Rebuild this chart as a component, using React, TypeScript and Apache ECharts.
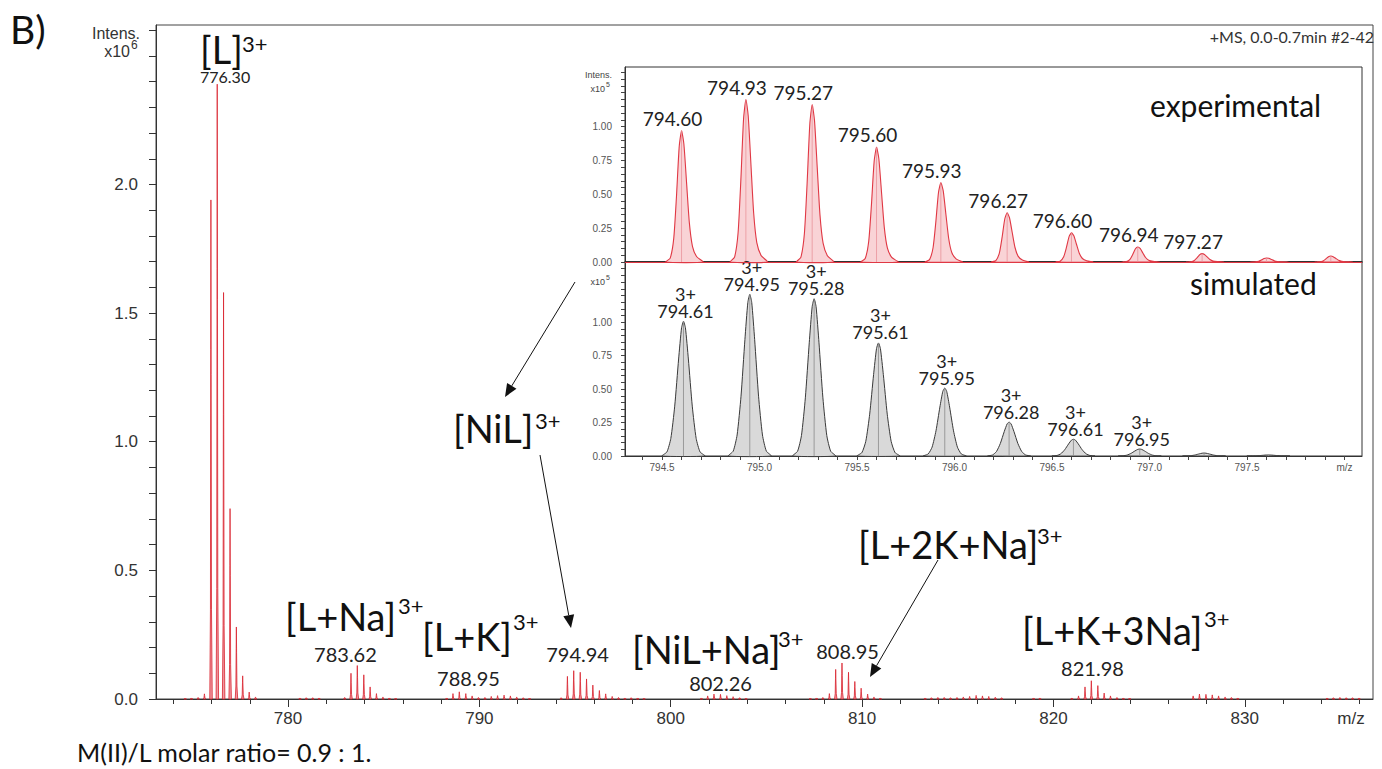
import React, { useEffect, useRef } from 'react';
import * as echarts from 'echarts';

// ---------------- data (main spectrum, intensity x10^6) ----------------
const mainMz = [
  774.62, 774.95, 775.30, 775.63, 775.97, 776.30, 776.63, 776.97, 777.30, 777.63, 777.97, 778.30,
  780.62, 780.95, 781.29, 781.62,
  782.96, 783.29, 783.62, 783.96, 784.29, 784.62, 784.96, 785.29, 785.62,
  788.29, 788.62, 788.95, 789.29, 789.62, 789.95, 790.29, 790.62, 790.95, 791.29, 791.62, 791.95, 792.29, 792.62,
  794.27, 794.60, 794.93, 795.27, 795.60, 795.93, 796.27, 796.60, 796.94, 797.27, 797.60, 797.93, 798.27, 798.60,
  801.60, 801.93, 802.26, 802.60, 802.93, 803.26, 803.60, 803.93,
  807.29, 807.62, 807.95, 808.29, 808.62, 808.95, 809.29, 809.62, 809.95, 810.29, 810.62, 810.95,
  813.29, 813.62, 813.96, 814.29, 814.62, 814.96, 815.29, 815.62, 815.96, 816.29, 816.62, 816.96, 817.29,
  818.96, 819.29,
  820.96, 821.31, 821.65, 821.98, 822.32, 822.65, 822.98, 823.32, 823.65, 823.98,
  827.30, 827.63, 827.97, 828.30, 828.63, 828.97, 829.30, 829.63,
  834.30, 834.63, 834.97, 835.30, 835.63, 835.97,
];
const mainInt = [
  0.003, 0.004, 0.006, 0.02, 1.94, 2.39, 1.58, 0.74, 0.28, 0.09, 0.027, 0.008,
  0.004, 0.005, 0.005, 0.004,
  0.006, 0.1, 0.13, 0.094, 0.047, 0.021, 0.008, 0.004, 0.003,
  0.004, 0.021, 0.028, 0.021, 0.012, 0.006, 0.006, 0.01, 0.013, 0.015, 0.012, 0.008, 0.005, 0.003,
  0.005, 0.088, 0.11, 0.104, 0.078, 0.054, 0.033, 0.02, 0.01, 0.006, 0.004, 0.005, 0.004, 0.003,
  0.004, 0.012, 0.019, 0.018, 0.013, 0.009, 0.005, 0.003,
  0.003, 0.004, 0.006, 0.021, 0.115, 0.14, 0.104, 0.068, 0.042, 0.019, 0.008, 0.004,
  0.004, 0.005, 0.006, 0.006, 0.005, 0.006, 0.008, 0.01, 0.014, 0.012, 0.01, 0.007, 0.005,
  0.004, 0.004,
  0.004, 0.012, 0.047, 0.071, 0.052, 0.023, 0.012, 0.006, 0.004, 0.003,
  0.012, 0.019, 0.018, 0.016, 0.012, 0.008, 0.006, 0.004,
  0.004, 0.005, 0.006, 0.005, 0.005, 0.004,
];
const mainLabelText = ['776.30', '783.62', '788.95', '794.94', '802.26', '808.95', '821.98'];
const mainLabelMz = [776.71, 783.0, 789.43, 795.13, 802.6, 809.24, 822.04];
const mainLabelLevel = [2.39, 0.136, 0.043, 0.136, 0.023, 0.148, 0.082];
const mainLabelSize = [16, 20, 20, 20, 20, 20, 20];

// ---------------- inset (x10^5) ----------------
const expMz = [794.60, 794.93, 795.27, 795.60, 795.93, 796.27, 796.60, 796.94, 797.27, 797.60, 797.93];
const expInt = [0.968, 1.198, 1.16, 0.847, 0.585, 0.363, 0.215, 0.111, 0.062, 0.03, 0.044];
const expLabel = ['794.60', '794.93', '795.27', '795.60', '795.93', '796.27', '796.60', '796.94', '797.27', '', ''];
const simMz = [794.61, 794.95, 795.28, 795.61, 795.95, 796.28, 796.61, 796.95, 797.28, 797.61];
const simInt = [1.007, 1.208, 1.175, 0.845, 0.508, 0.253, 0.125, 0.052, 0.022, 0.008];
const simLabel = ['794.61', '794.95', '795.28', '795.61', '795.95', '796.28', '796.61', '796.95', '', ''];

// ---------------- ticks ----------------
const mainXLabels = [780, 790, 800, 810, 820, 830];
const mainXTicks = [774, 776, 778, 780, 782, 784, 786, 788, 790, 792, 794, 796, 798, 800, 802, 804, 806, 808, 810, 812, 814, 816, 818, 820, 822, 824, 826, 828, 830, 832, 834, 836];
const mainYLabels = [0, 0.5, 1.0, 1.5, 2.0];
const mainYTicks = [0, 0.1, 0.2, 0.3, 0.4, 0.5, 0.6, 0.7, 0.8, 0.9, 1.0, 1.1, 1.2, 1.3, 1.4, 1.5, 1.6, 1.7, 1.8, 1.9, 2.0, 2.1, 2.2, 2.3, 2.4, 2.5, 2.6];
const insetXLabels = [794.5, 795.0, 795.5, 796.0, 796.5, 797.0, 797.5, 798.0];
const insetXTicks = [794.4, 794.5, 794.6, 794.7, 794.8, 794.9, 795.0, 795.1, 795.2, 795.3, 795.4, 795.5, 795.6, 795.7, 795.8, 795.9, 796.0, 796.1, 796.2, 796.3, 796.4, 796.5, 796.6, 796.7, 796.8, 796.9, 797.0, 797.1, 797.2, 797.3, 797.4, 797.5, 797.6, 797.7, 797.8, 797.9, 798.0];
const insetYLabels = [0, 0.25, 0.5, 0.75, 1.0];
const insetYTicks = [0, 0.05, 0.1, 0.15, 0.2, 0.25, 0.3, 0.35, 0.4, 0.45, 0.5, 0.55, 0.6, 0.65, 0.7, 0.75, 0.8, 0.85, 0.9, 0.95, 1.0, 1.05, 1.1, 1.15, 1.2, 1.25, 1.3, 1.35, 1.4];

// peak profile templates (offset in m/z, relative height) - drawing style only
const mainShape = [[-0.06, 0], [-0.025, 0.18], [-0.01, 0.7], [0, 1], [0.012, 0.65], [0.03, 0.18], [0.07, 0]];
const expShape = [[-0.08, 0], [-0.058, 0.03], [-0.04, 0.18], [-0.026, 0.5], [-0.012, 0.88], [0, 1], [0.012, 0.9], [0.026, 0.6], [0.04, 0.3], [0.056, 0.12], [0.078, 0.04], [0.11, 0]];
const simShape = [[-0.11, 0], [-0.085, 0.03], [-0.065, 0.13], [-0.045, 0.37], [-0.025, 0.72], [-0.01, 0.95], [0, 1], [0.01, 0.95], [0.025, 0.72], [0.045, 0.37], [0.065, 0.13], [0.085, 0.03], [0.11, 0]];

const AX = '"Liberation Sans", Arial, sans-serif';
const AN = 'Lato, "Open Sans", sans-serif';

function txt(x: number, y: number, text: string, size: number, family: string, align = 'left', fill = '#111', va = 'middle') {
  return {
    type: 'text', x, y, silent: true, z: 50,
    style: { text, fontSize: size, fontFamily: family, fill, align, textAlign: align, verticalAlign: va, textVerticalAlign: va },
  };
}

function arrow(x1: number, y1: number, x2: number, y2: number) {
  const dx = x2 - x1, dy = y2 - y1, L = Math.hypot(dx, dy), ux = dx / L, uy = dy / L;
  const hl = 13, hw = 5.5;
  const bx = x2 - ux * hl, by = y2 - uy * hl;
  return [
    { type: 'line', silent: true, z: 50, shape: { x1, y1, x2: bx, y2: by }, style: { stroke: '#111', lineWidth: 1 } },
    { type: 'polygon', silent: true, z: 50, shape: { points: [[x2, y2], [bx - uy * hw, by + ux * hw], [bx + uy * hw, by - ux * hw]] }, style: { fill: '#111' } },
  ];
}

function annot(x: number, y: number, main: string, sx: number, sy: number) {
  return [txt(x, y, main, 38, AN), txt(sx, sy, '3+', 22, AN)];
}

const App: React.FC = () => {
  const ref = useRef<HTMLDivElement>(null);
  useEffect(() => {
    if (!ref.current) return;
    const chart = echarts.init(ref.current, null, { renderer: 'svg' });
    const axisFont = { fontFamily: AX, color: '#333' };
    const option: any = {
      animation: false,
      backgroundColor: '#fff',
      grid: [
        { left: 156, top: 25, width: 1217, height: 674, show: true, borderColor: '#444', borderWidth: 1, outerBoundsMode: 'none' },
        { left: 625, top: 67, width: 737, height: 195, show: true, borderColor: '#333', borderWidth: 1, backgroundColor: '#fff', outerBoundsMode: 'none' },
        { left: 625, top: 262, width: 737, height: 194, show: true, borderColor: '#333', borderWidth: 1, backgroundColor: '#fff', outerBoundsMode: 'none' },
      ],
      xAxis: [
        {
          gridIndex: 0, type: 'value', min: 773.1, max: 836.7, position: 'bottom',
          axisLine: { show: true, lineStyle: { color: '#333', width: 1 } },
          axisTick: { show: true, customValues: mainXTicks, length: 5, lineStyle: { color: '#333' } },
          axisLabel: { customValues: mainXLabels, fontSize: 17, margin: 11, ...axisFont },
          splitLine: { show: false },
        },
        {
          gridIndex: 0, type: 'value', min: 773.1, max: 836.7, position: 'bottom',
          axisLine: { show: false },
          axisTick: { show: true, customValues: mainXLabels, length: 8, lineStyle: { color: '#333' } },
          axisLabel: { show: false }, splitLine: { show: false },
        },
        {
          gridIndex: 1, type: 'value', min: 794.31, max: 798.09, position: 'bottom',
          axisLine: { show: true, lineStyle: { color: '#222', width: 1.5 } },
          axisTick: { show: false }, axisLabel: { show: false }, splitLine: { show: false },
        },
        {
          gridIndex: 2, type: 'value', min: 794.31, max: 798.09, position: 'bottom',
          axisLine: { show: true, lineStyle: { color: '#333', width: 1 } },
          axisTick: { show: true, customValues: insetXTicks, length: 4, lineStyle: { color: '#444' } },
          axisLabel: {
            customValues: insetXLabels, fontSize: 10, margin: 6, fontFamily: AX, color: '#555',
            formatter: (v: number) => (v > 797.95 ? 'm/z' : v.toFixed(1)),
          },
          splitLine: { show: false },
        },
      ],
      yAxis: [
        {
          gridIndex: 0, type: 'value', min: 0, max: 2.62,
          axisLine: { show: true, lineStyle: { color: '#333', width: 1 } },
          axisTick: { show: true, customValues: mainYTicks, length: 7, lineStyle: { color: '#333' } },
          axisLabel: { customValues: mainYLabels, fontSize: 17, margin: 18, formatter: (v: number) => v.toFixed(1), ...axisFont },
          splitLine: { show: false },
        },
        {
          gridIndex: 1, type: 'value', min: 0, max: 1.44,
          axisLine: { show: true, lineStyle: { color: '#333' } },
          axisTick: { show: true, customValues: insetYTicks, length: 4, lineStyle: { color: '#444' } },
          axisLabel: { customValues: insetYLabels, fontSize: 10, margin: 13, fontFamily: AX, color: '#555', formatter: (v: number) => v.toFixed(2) },
          splitLine: { show: false },
        },
        {
          gridIndex: 2, type: 'value', min: 0, max: 1.45,
          axisLine: { show: true, lineStyle: { color: '#333' } },
          axisTick: { show: true, customValues: insetYTicks, length: 4, lineStyle: { color: '#444' } },
          axisLabel: { customValues: insetYLabels, fontSize: 10, margin: 13, fontFamily: AX, color: '#555', formatter: (v: number) => v.toFixed(2) },
          splitLine: { show: false },
        },
      ],
      series: [
        {
          type: 'custom', xAxisIndex: 0, yAxisIndex: 0, silent: true,
          data: mainMz.map((m, i) => [m, mainInt[i]]),
          encode: { x: 0, y: 1 },
          renderItem: (params: any, api: any) => {
            const mz = api.value(0), h = api.value(1);
            const pts = mainShape.map(([dx, r]) => api.coord([mz + dx, r * h]));
            return { type: 'polygon', shape: { points: pts }, style: { fill: '#ef9aa2', stroke: '#d9232e', lineWidth: 0.8 } };
          },
        },
        {
          type: 'custom', xAxisIndex: 0, yAxisIndex: 0, silent: true,
          data: mainLabelMz.map((m, i) => [m, mainLabelLevel[i]]),
          encode: { x: 0, y: 1 },
          renderItem: (params: any, api: any) => {
            const p = api.coord([api.value(0), api.value(1)]);
            const s = mainLabelSize[params.dataIndex];
            return {
              type: 'text', x: p[0], y: p[1],
              style: { text: mainLabelText[params.dataIndex], fontSize: s, fontFamily: AN, fill: '#222', align: 'center', textAlign: 'center', verticalAlign: 'bottom', textVerticalAlign: 'bottom' },
            };
          },
        },
        {
          type: 'custom', xAxisIndex: 2, yAxisIndex: 1, silent: true,
          data: expMz.map((m, i) => [m, expInt[i]]),
          encode: { x: 0, y: 1 },
          markLine: { silent: true, symbol: 'none', label: { show: false }, data: [{ yAxis: 0 }], lineStyle: { color: '#e03844', width: 1, type: 'solid' } },
          renderItem: (params: any, api: any) => {
            const mz = api.value(0), h = api.value(1);
            const pts = expShape.map(([dx, r]) => api.coord([mz + dx, r * h]));
            const top = api.coord([mz, h]);
            const base = api.coord([mz, 0]);
            const children: any[] = [
              { type: 'polygon', shape: { points: pts, smooth: 0.2 }, style: { fill: '#f9d3d6', stroke: '#e03844', lineWidth: 1.1 } },
              { type: 'line', shape: { x1: top[0], y1: top[1], x2: base[0], y2: base[1] }, style: { stroke: '#e8939a', lineWidth: 0.8 } },
            ];
            const lbl = expLabel[params.dataIndex];
            if (lbl) {
              children.push({
                type: 'text', x: top[0] - 9, y: top[1] - 3,
                style: { text: lbl, fontSize: 19, fontFamily: AN, fill: '#222', align: 'center', textAlign: 'center', verticalAlign: 'bottom', textVerticalAlign: 'bottom' },
              });
            }
            return { type: 'group', children };
          },
        },
        {
          type: 'custom', xAxisIndex: 3, yAxisIndex: 2, silent: true,
          data: simMz.map((m, i) => [m, simInt[i]]),
          encode: { x: 0, y: 1 },
          renderItem: (params: any, api: any) => {
            const mz = api.value(0), h = api.value(1);
            const pts = simShape.map(([dx, r]) => api.coord([mz + dx, r * h]));
            const top = api.coord([mz, h]);
            const base = api.coord([mz, 0]);
            const children: any[] = [
              { type: 'polygon', shape: { points: pts, smooth: 0.2 }, style: { fill: '#d9d9d9', stroke: '#3a3a3a', lineWidth: 1 } },
              { type: 'line', shape: { x1: top[0], y1: top[1], x2: base[0], y2: base[1] }, style: { stroke: '#8a8a8a', lineWidth: 0.8 } },
            ];
            const lbl = simLabel[params.dataIndex];
            if (lbl) {
              children.push({
                type: 'text', x: top[0] + 2, y: top[1] - 2,
                style: { text: '3+\n' + lbl, fontSize: 18, lineHeight: 17, fontFamily: AN, fill: '#222', align: 'center', textAlign: 'center', verticalAlign: 'bottom', textVerticalAlign: 'bottom' },
              });
            }
            return { type: 'group', children };
          },
        },
      ],
      graphic: [
        txt(10, 29, 'B)', 39, AN),
        txt(140, 33, 'Intens.', 16, AX, 'right', '#333'),
        txt(130, 51, 'x10', 16, AX, 'right', '#333'),
        txt(131, 45, '6', 12, AX, 'left', '#333'),
        txt(1374, 36, '+MS, 0.0-0.7min #2-42', 16, AN, 'right', '#333'),
        txt(1351, 718, 'm/z', 17, AX, 'center', '#333'),
        txt(77, 752, 'M(II)/L molar ratio= 0.9 : 1.', 25, AN),
        // inset labels
        txt(612, 74.5, 'Intens.', 9, AX, 'right', '#444'),
        txt(605, 88.5, 'x10', 9, AX, 'right', '#444'),
        txt(606, 84, '5', 7, AX, 'left', '#444'),
        txt(605, 281.5, 'x10', 9, AX, 'right', '#444'),
        txt(606, 277, '5', 7, AX, 'left', '#444'),
        txt(1150, 105, 'experimental', 30, AN),
        txt(1190, 283, 'simulated', 30, AN),
        // big annotations
        ...annot(200, 48.5, '[L]', 242, 43),
        ...annot(285, 616, '[L+Na]', 398, 605),
        ...annot(422, 636, '[L+K]', 513, 621),
        ...annot(632, 648.5, '[NiL+Na]', 778, 638),
        ...annot(1022, 630, '[L+K+3Na]', 1204, 618),
        ...annot(453, 428, '[NiL]', 535, 420),
        ...annot(858, 544, '[L+2K+Na]', 1037, 535),
        ...arrow(575, 282, 505, 397),
        ...arrow(540, 455, 571, 628),
        ...arrow(938, 560, 870, 677),
      ],
    };
    chart.setOption(option);
    return () => chart.dispose();
  }, []);
  return <div ref={ref} style={{ position: 'fixed', left: 0, top: 0, width: 1382, height: 769, background: '#fff' }} />;
};

export default App;
